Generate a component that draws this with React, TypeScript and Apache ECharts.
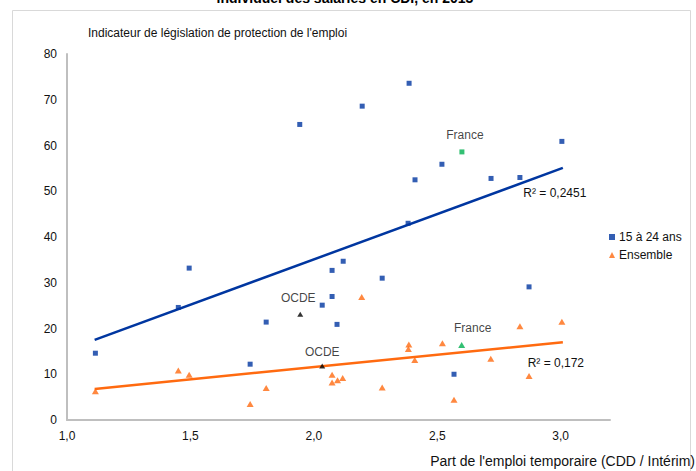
import React, { useEffect, useRef } from "react";
import * as echarts from "echarts";

// Young workers (15 à 24 ans)
const youngX = [1.115, 1.451, 1.495, 1.742, 1.807, 1.943, 2.034, 2.074, 2.074, 2.094, 2.119, 2.196, 2.277, 2.386, 2.382, 2.41, 2.519, 2.718, 2.835, 3.005, 2.872, 2.568];
const youngY = [14.6, 24.6, 33.2, 12.2, 21.4, 64.6, 25.1, 32.7, 27.0, 20.9, 34.7, 68.6, 31.0, 73.6, 43.0, 52.5, 55.9, 52.8, 53.0, 60.9, 29.1, 10.0];
// All workers (Ensemble)
const allX = [1.115, 1.451, 1.495, 1.742, 1.807, 2.074, 2.074, 2.096, 2.117, 2.194, 2.277, 2.383, 2.385, 2.409, 2.521, 2.568, 2.717, 2.835, 2.872, 3.005];
const allY = [6.3, 10.8, 9.9, 3.5, 7.0, 9.9, 8.2, 8.7, 9.2, 26.9, 7.1, 15.5, 16.5, 13.1, 16.8, 4.4, 13.4, 20.5, 9.6, 21.5];
// Highlighted points
const franceYoung = [2.6, 58.6];
const franceAll = [2.599, 16.4];
const ocdeYoung = [1.945, 23.1];
const ocdeAll = [2.034, 11.8];
// Trend lines
const trendX = [1.112, 3.009];
const youngTrend = [17.5, 55.1];
const allTrend = [6.8, 17.0];
const youngR2 = "R² = 0,2451";
const allR2 = "R² = 0,172";

const FONT = "Liberation Sans, Arial, sans-serif";
const BLUE = "#0036A0";
const ORANGE = "#FF6A10";
const GREEN = "#00B050";

export default function App() {
  const ref = useRef<HTMLDivElement>(null);
  useEffect(() => {
    if (!ref.current) return;
    const chart = echarts.init(ref.current, undefined, { renderer: "svg" });
    const pairs = (xs: number[], ys: number[]) => xs.map((x, i) => [x, ys[i]]);
    const txt = { fontFamily: FONT, fontSize: 12, color: "#111" };
    chart.setOption({
      animation: false,
      textStyle: { fontFamily: FONT },
      grid: { left: 67, right: 86, top: 54, bottom: 51, containLabel: false },
      xAxis: {
        type: "value",
        min: 1,
        max: 3.2,
        interval: 0.5,
        axisLine: { show: true, lineStyle: { color: "#BFBFBF", width: 2 } },
        axisTick: { show: false },
        splitLine: { show: false },
        axisLabel: {
          ...txt,
          margin: 10,
          showMaxLabel: false,
          formatter: (v: number) => (Math.abs(v * 2 - Math.round(v * 2)) < 1e-6 ? v.toFixed(1).replace(".", ",") : ""),
        },
      },
      yAxis: {
        type: "value",
        min: 0,
        max: 80,
        interval: 10,
        axisLine: { show: true, lineStyle: { color: "#BFBFBF", width: 2 } },
        axisTick: { show: false },
        splitLine: { show: false },
        axisLabel: { ...txt, margin: 10 },
      },
      legend: {
        orient: "vertical",
        left: 604,
        top: 226,
        itemWidth: 6,
        itemHeight: 6,
        itemGap: 6,
        textStyle: { ...txt, padding: [0, 0, 0, -1] },
        data: [
          { name: "15 à 24 ans", icon: "rect" },
          { name: "Ensemble", icon: "triangle" },
        ],
      },
      graphic: [
        {
          type: "rect",
          shape: { x: 12.5, y: 10.5, width: 678, height: 480 },
          style: { fill: "none", stroke: "#D9D9D9", lineWidth: 1 },
          silent: true,
        },
        {
          type: "text",
          x: 345,
          y: 5,
          style: {
            text: "individuel des salariés en CDI, en 2013",
            font: `bold 14px ${FONT}`,
            fill: "#000",
            textAlign: "center",
            textVerticalAlign: "bottom",
          },
        },
        {
          type: "text",
          x: 88,
          y: 33,
          style: {
            text: "Indicateur de législation de protection de l'emploi",
            font: `12px ${FONT}`,
            fill: "#111",
            textAlign: "left",
            textVerticalAlign: "middle",
          },
        },
        {
          type: "text",
          x: 695,
          y: 461,
          style: {
            text: "Part de l'emploi temporaire (CDD / Intérim)",
            font: `14px ${FONT}`,
            fill: "#111",
            textAlign: "right",
            textVerticalAlign: "middle",
          },
        },
      ],
      series: [
        {
          name: "15 à 24 ans",
          type: "scatter",
          symbol: "rect",
          symbolSize: 5,
          itemStyle: { color: BLUE },
          data: pairs(youngX, youngY),
          z: 3,
        },
        {
          name: "Ensemble",
          type: "scatter",
          symbol: "triangle",
          symbolSize: [7, 6],
          itemStyle: { color: ORANGE },
          data: pairs(allX, allY),
          z: 3,
        },
        {
          name: "trendYoung",
          type: "line",
          symbol: "circle",
          symbolSize: 0,
          showSymbol: true,
          lineStyle: { color: BLUE, width: 2.5 },
          itemStyle: { color: BLUE },
          data: [
            [trendX[0], youngTrend[0]],
            {
              value: [trendX[1], youngTrend[1]],
              label: { show: true, formatter: youngR2, position: "bottom", offset: [-8, 14], ...txt },
            },
          ],
          z: 2,
        },
        {
          name: "trendAll",
          type: "line",
          symbol: "circle",
          symbolSize: 0,
          showSymbol: true,
          lineStyle: { color: ORANGE, width: 2.5 },
          itemStyle: { color: ORANGE },
          data: [
            [trendX[0], allTrend[0]],
            {
              value: [trendX[1], allTrend[1]],
              label: { show: true, formatter: allR2, position: "bottom", offset: [-7, 10], ...txt },
            },
          ],
          z: 2,
        },
        {
          name: "franceYoung",
          type: "scatter",
          symbol: "rect",
          symbolSize: 5,
          itemStyle: { color: GREEN },
          label: { show: true, formatter: "France", position: "top", offset: [3, -3], ...txt },
          data: [franceYoung],
          z: 4,
        },
        {
          name: "franceAll",
          type: "scatter",
          symbol: "triangle",
          symbolSize: [7, 6],
          itemStyle: { color: GREEN },
          label: { show: true, formatter: "France", position: "top", offset: [11, -3], ...txt },
          data: [franceAll],
          z: 4,
        },
        {
          name: "ocdeYoung",
          type: "scatter",
          symbol: "triangle",
          symbolSize: [6, 5],
          itemStyle: { color: "#000" },
          label: { show: true, formatter: "OCDE", position: "top", offset: [-2, -3], ...txt },
          data: [ocdeYoung],
          z: 4,
        },
        {
          name: "ocdeAll",
          type: "scatter",
          symbol: "triangle",
          symbolSize: [6, 5],
          itemStyle: { color: "#000" },
          label: { show: true, formatter: "OCDE", position: "top", offset: [0, -1], ...txt },
          data: [ocdeAll],
          z: 4,
        },
      ],
    });
    return () => chart.dispose();
  }, []);
  return (
    <div
      ref={ref}
      style={{ position: "fixed", left: 0, top: 0, width: 696, height: 471, background: "#fff" }}
    />
  );
}
